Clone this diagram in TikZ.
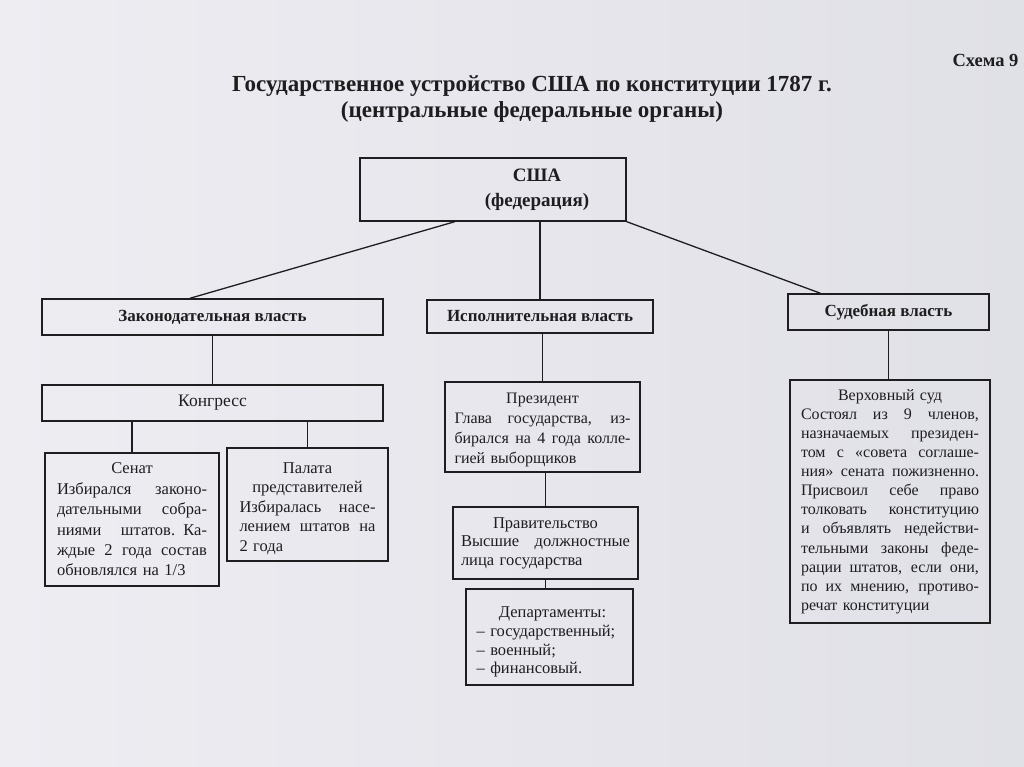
\documentclass[tikz,border=0pt]{standalone}
\usepackage{fontspec}
\setmainfont{Liberation Serif}
\usetikzlibrary{calc}
\definecolor{paperL}{RGB}{238,237,242}
\definecolor{paperR}{RGB}{224,224,231}
\definecolor{ink}{RGB}{30,30,32}
\newcommand\js[1]{\leavevmode\hbox to\hsize{\spaceskip=0.25em plus 1fil minus 0.08em\relax #1}}
\newcommand\jl[1]{\leavevmode\hbox to\hsize{#1\hfil}}
\begin{document}
\begin{tikzpicture}[x=1pt,y=-1pt,
  box/.style={draw=ink, line width=1.4pt, text=ink, inner sep=0pt, anchor=center},
  hd/.style={box, font=\fontsize{17}{20}\selectfont\bfseries},
  body/.style={box, align=center, font=\fontsize{16}{20}\selectfont},
  link/.style={draw=ink, line width=1.3pt}]
\shade[left color=paperL, right color=paperR] (0,0) rectangle (1024,767);
\useasboundingbox (0,0) rectangle (1024,767);

\node[font=\fontsize{23}{26}\selectfont\bfseries, align=center, text=ink] (title) at (532,99)
  {Государственное устройство США по конституции 1787 г.\\(центральные федеральные органы)};
\node[font=\fontsize{18.5}{22}\selectfont\bfseries, anchor=base east, text=ink] (schema) at (1022,67) {Схема 9};

\node[box, align=center, font=\fontsize{19}{25}\selectfont\bfseries, minimum width=266, minimum height=63] (usa) at (493,189.5) {\hspace*{88pt}США\\\hspace*{88pt}(федерация)};

\node[hd, minimum width=341, minimum height=36] (leg) at (212.5,317) {Законодательная власть};
\node[hd, minimum width=226, minimum height=33] (exe) at (540,316.5) {Исполнительная власть};
\node[hd, minimum width=201, minimum height=36] (jud) at (888.5,312) {Судебная власть};

\node[box, font=\fontsize{17.5}{20}\selectfont, minimum width=341, minimum height=36] (cong) at (212.5,403) {Конгресс};

\node[body, font=\fontsize{16.5}{20.4}\selectfont, text width=150, minimum width=174, minimum height=133] (sen) at (132,519.5)
  {Сенат\\\js{Избирался законо-}\\\js{дательными собра-}\\\js{ниями штатов. Ка-}\\\js{ждые 2 года состав}\\\jl{обновлялся на 1/3}};

\node[body, font=\fontsize{16.5}{19.5}\selectfont, text width=136, minimum width=161, minimum height=113] (pal) at (307.5,504.5)
  {\rule{0pt}{19pt}Палата\\представителей\\\js{Избиралась насе-}\\\js{лением штатов на}\\\jl{2 года}};

\node[body, text width=176, minimum width=195, minimum height=90] (pres) at (542.5,427)
  {\rule{0pt}{17pt}Президент\\\js{Глава государства, из-}\\\js{бирался на 4 года колле-}\\\jl{гией выборщиков}};

\node[body, font=\fontsize{16.5}{18.5}\selectfont, text width=169, minimum width=185, minimum height=72] (gov) at (545.5,543)
  {Правительство\\\js{Высшие должностные}\\\jl{лица государства}};

\node[body, font=\fontsize{16.5}{18.8}\selectfont, text width=146, minimum width=167, minimum height=96] (dep) at (549.5,637)
  {\rule{0pt}{21pt}\hspace*{6pt}Департаменты:\\\jl{– государственный;}\\\jl{– военный;}\\\jl{– финансовый.}};

\node[body, font=\fontsize{16}{19.1}\selectfont, text width=178, minimum width=200, minimum height=243] (sup) at (890,501.5)
  {Верховный суд\\\js{Состоял из 9 членов,}\\\js{назначаемых президен-}\\\js{том с «совета соглаше-}\\\js{ния» сената пожизненно.}\\\js{Присвоил себе право}\\\js{толковать конституцию}\\\js{и объявлять недействи-}\\\js{тельными законы феде-}\\\js{рации штатов, если они,}\\\js{по их мнению, противо-}\\\jl{речат конституции}};

\draw[link] ($(usa.south west)!0.357!(usa.south east)$) -- ($(leg.north west)!0.434!(leg.north east)$);
\draw[link] (usa.south -| exe.north) -- (exe.north);
\draw[link] (usa.south east) -- ($(jud.north west)!0.164!(jud.north east)$);
\draw[link] (leg.south) -- (cong.north);
\draw[link] (sen.north |- cong.south) -- (sen.north);
\draw[link] (pal.north |- cong.south) -- (pal.north);
\draw[link] (pres.north |- exe.south) -- (pres.north);
\draw[link] (gov.north |- pres.south) -- (gov.north);
\draw[link] (gov.south) -- (gov.south |- dep.north);
\draw[link] (jud.south) -- (jud.south |- sup.north);
\end{tikzpicture}
\end{document}
